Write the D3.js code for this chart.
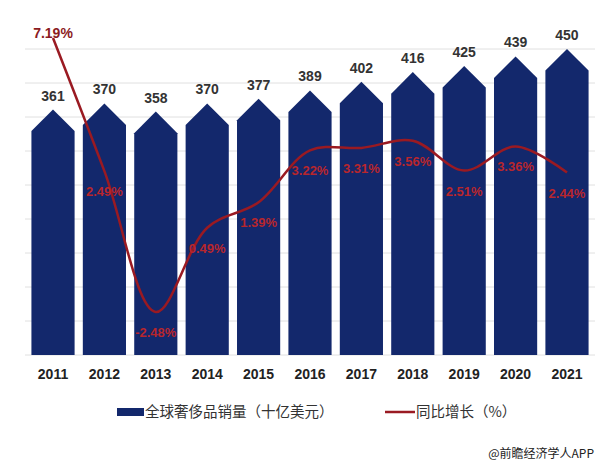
<!DOCTYPE html>
<html>
<head>
<meta charset="utf-8">
<script src="https://cdn.jsdelivr.net/npm/d3@7"></script>
<style>
  html, body { margin: 0; padding: 0; background: #fff; }
  svg { display: block; font-family: "Liberation Sans", Arial, "Noto Sans CJK SC", sans-serif; }
</style>
</head>
<body>
<svg id="chart" width="600" height="467"></svg>
<script>
const years = ["2011","2012","2013","2014","2015","2016","2017","2018","2019","2020","2021"];
const sales = [361, 370, 358, 370, 377, 389, 402, 416, 425, 439, 450];
const growth = [7.19, 2.49, -2.48, 0.49, 1.39, 3.22, 3.31, 3.56, 2.51, 3.36, 2.44];
const gridTicks = [0, 50, 100, 150, 200, 250, 300, 350, 400, 450];
const seriesNames = ["全球奢侈品销量（十亿美元）", "同比增长（%）"];
const source = "@前瞻经济学人APP";

const svg = d3.select("#chart");
const plotTop = 15, plotBottom = 355;

const x = d3.scaleBand().domain(years).range([23.2, 596.8]).padding(0.16);
const y = d3.scaleLinear().domain([0, 500]).range([plotBottom, plotTop]);
const y2 = d3.scaleLinear().domain([-4, 8]).range([plotBottom, plotTop]);

// gridlines
svg.append("g").selectAll("line").data(gridTicks).join("line")
  .attr("x1", 25).attr("x2", 595)
  .attr("y1", d => y(d)).attr("y2", d => y(d))
  .attr("stroke", "#e0e0e0").attr("stroke-width", 1);

// arrow-shaped bars
const bw = x.bandwidth();
const half = bw / 2;
svg.append("g").selectAll("path").data(years).join("path")
  .attr("d", (d, i) => {
    const l = x(d), r = l + bw, c = l + half, top = y(sales[i]);
    return `M${l},${plotBottom}L${l},${top + half}L${c},${top}L${r},${top + half}L${r},${plotBottom}Z`;
  })
  .attr("fill", "#13286c");

// value labels
svg.append("g").selectAll("text").data(years).join("text")
  .attr("x", d => x(d) + half)
  .attr("y", (d, i) => y(sales[i]) - 9)
  .attr("text-anchor", "middle")
  .attr("font-size", 14).attr("font-weight", "bold")
  .attr("fill", "#333")
  .text((d, i) => sales[i]);

// x axis labels
svg.append("g").selectAll("text").data(years).join("text")
  .attr("x", d => x(d) + half)
  .attr("y", 379)
  .attr("text-anchor", "middle")
  .attr("font-size", 14).attr("font-weight", "bold")
  .attr("fill", "#222")
  .text(d => d);

// growth line
const line = d3.line()
  .x((d, i) => x(years[i]) + half)
  .y(d => y2(d))
  .curve(d3.curveCatmullRom.alpha(0.5));
svg.append("path").datum(growth)
  .attr("d", line)
  .attr("fill", "none")
  .attr("stroke", "#9a1a22")
  .attr("stroke-width", 2.5);

// growth labels
svg.append("g").selectAll("text").data(growth).join("text")
  .attr("x", (d, i) => x(years[i]) + half)
  .attr("y", (d, i) => i === 0 ? y2(d) : y2(d) + 25)
  .attr("text-anchor", "middle")
  .attr("font-size", (d, i) => i === 0 ? 14 : 13)
  .attr("font-weight", "bold")
  .attr("fill", (d, i) => i === 0 ? "#8b1a22" : "#b8262c")
  .text(d => d.toFixed(2) + "%");

// legend
const lg = svg.append("g");
lg.append("rect").attr("x", 117).attr("y", 408).attr("width", 27).attr("height", 8).attr("fill", "#13286c");
lg.append("text").attr("x", 145).attr("y", 417)
  .attr("font-family", "'Noto Sans CJK SC', sans-serif")
  .attr("font-size", 14.5).attr("fill", "#333").text(seriesNames[0]);
lg.append("line").attr("x1", 385).attr("x2", 415).attr("y1", 412).attr("y2", 412)
  .attr("stroke", "#9a1a22").attr("stroke-width", 2.5);
lg.append("text").attr("x", 416).attr("y", 417)
  .attr("font-family", "'Noto Sans CJK SC', sans-serif")
  .attr("font-size", 14.5).attr("fill", "#333").text(seriesNames[1]);

// source
svg.append("text").attr("x", 594).attr("y", 458)
  .attr("text-anchor", "end")
  .attr("font-family", "'Noto Sans CJK SC', sans-serif")
  .attr("font-size", 12).attr("fill", "#222").text(source);
</script>
</body>
</html>
